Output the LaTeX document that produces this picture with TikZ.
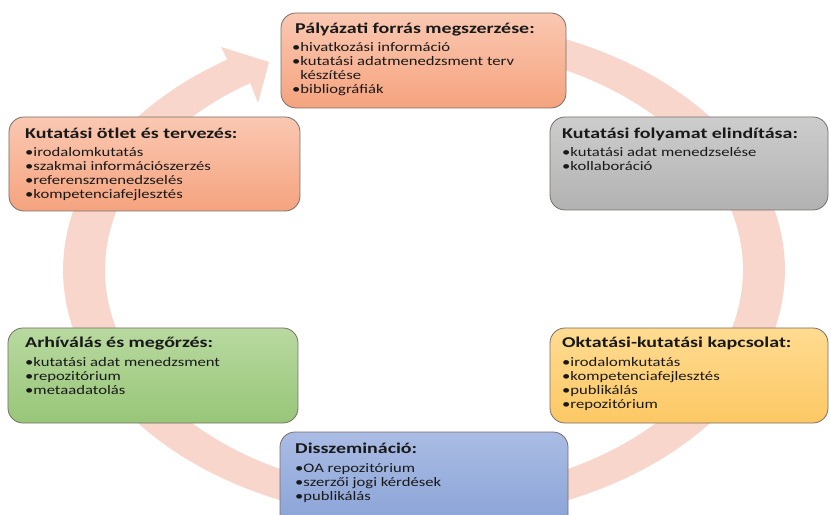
\documentclass[tikz,border=0pt]{standalone}
\usepackage{fontspec}
\setmainfont{Carlito}
\newfontfamily\ttlfont{Carlito}[FakeStretch=1.33]
\newfontfamily\itmfont{Carlito}[FakeStretch=1.28]
\definecolor{ringc}{RGB}{248,214,204}
\definecolor{salT}{RGB}{250,200,178}
\definecolor{salB}{RGB}{245,163,126}
\definecolor{grayT}{RGB}{205,205,205}
\definecolor{grayB}{RGB}{178,178,178}
\definecolor{grnT}{RGB}{184,217,160}
\definecolor{grnB}{RGB}{152,198,120}
\definecolor{ylwT}{RGB}{255,219,145}
\definecolor{ylwB}{RGB}{252,200,100}
\definecolor{bluT}{RGB}{170,188,228}
\definecolor{bluB}{RGB}{136,162,214}
\definecolor{edge}{RGB}{120,110,105}
\newcommand{\itemlist}[1]{\begin{tabular}[t]{@{}l@{}}#1\end{tabular}}
\tikzset{
  card/.style={draw=edge, line width=0.8bp, rounded corners=15bp, inner sep=0pt},
  ttl/.style={anchor=base west, inner sep=0pt, font=\ttlfont\bfseries\fontsize{15bp}{17bp}\selectfont, text=black!90},
  itm/.style={anchor=base west, inner sep=0pt, font=\itmfont\fontsize{13bp}{14bp}\selectfont, text=black!90},
}
\begin{document}
\begin{tikzpicture}[x=1bp,y=-1bp]
\path[use as bounding box] (0,0) rectangle (830,515);
\clip (0,0) rectangle (830,515);
% ring arrow
\fill[ringc] plot[domain=75:-237, samples=150] ({424+361*cos(\x)},{270-251*sin(\x)})
  -- (221,47) -- (269,62) -- (258,103)
  -- plot[domain=-237:75, samples=150] ({424+319*cos(\x)},{270-223*sin(\x)}) -- cycle;
% boxes
\node[card, top color=salT, bottom color=salB, minimum width=285bp, minimum height=95bp] (b1) at (423.5,60.5) {};
\node[card, top color=salT, bottom color=salB, minimum width=291bp, minimum height=94bp] (b2) at (154.5,164) {};
\node[card, top color=grayT, bottom color=grayB, minimum width=278bp, minimum height=93bp] (b3) at (689,163.5) {};
\node[card, top color=grnT, bottom color=grnB, minimum width=290bp, minimum height=95bp] (b4) at (153,375.5) {};
\node[card, top color=ylwT, bottom color=ylwB, minimum width=278bp, minimum height=95bp] (b5) at (689,375.5) {};
\node[card, top color=bluT, bottom color=bluB, minimum width=288bp, minimum height=98bp] (b6) at (424,481) {};
% texts
\node[ttl] (t1) at (295,34) {Pályázati forrás megszerzése:};
\node[itm] (l1) at (292,52) {\itemlist{•hivatkozási információ\\•kutatási adatmenedzsment terv\\\phantom{•}készítése\\•bibliográfiák}};
\node[ttl] (t2) at (25,139) {Kutatási ötlet és tervezés:};
\node[itm] (l2) at (25,157) {\itemlist{•irodalomkutatás\\•szakmai információszerzés\\•referenszmenedzselés\\•kompetenciafejlesztés}};
\node[ttl] (t3) at (562,139) {Kutatási folyamat elindítása:};
\node[itm] (l3) at (562,157) {\itemlist{•kutatási adat menedzselése\\•kollaboráció}};
\node[ttl] (t4) at (25,347) {Arhíválás és megőrzés:};
\node[itm] (l4) at (25,366) {\itemlist{•kutatási adat menedzsment\\•repozitórium\\•metaadatolás}};
\node[ttl] (t5) at (562,347) {Oktatási-kutatási kapcsolat:};
\node[itm] (l5) at (562,366) {\itemlist{•irodalomkutatás\\•kompetenciafejlesztés\\•publikálás\\•repozitórium}};
\node[ttl] (t6) at (295,453) {Disszemináció:};
\node[itm] (l6) at (295,472) {\itemlist{•OA repozitórium\\•szerzői jogi kérdések\\•publikálás}};
\end{tikzpicture}
\end{document}
